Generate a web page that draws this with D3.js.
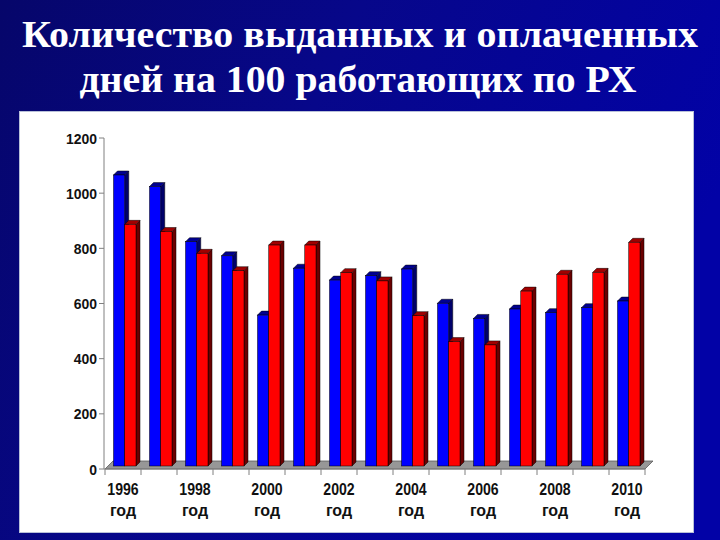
<!DOCTYPE html>
<html><head><meta charset="utf-8">
<script src="https://cdn.jsdelivr.net/npm/d3@7"></script>
<style>html,body{margin:0;padding:0;background:#000070;}svg{display:block;}</style>
</head><body>
<svg id="c" width="720" height="540"></svg>
<script>
const titleLines = ["Количество выданных и оплаченных", "дней на 100 работающих по РХ"];
const years = ["1996","1997","1998","1999","2000","2001","2002","2003","2004","2005","2006","2007","2008","2009","2010"];
const issued = [1055, 1013, 813, 762, 547, 717, 674, 690, 714, 590, 535, 569, 556, 574, 598];
const paid   = [876, 850, 771, 708, 801, 801, 701, 671, 545, 451, 439, 634, 695, 702, 811];
const yTicks = [0, 200, 400, 600, 800, 1000, 1200];
const xLabelYears = ["1996","1998","2000","2002","2004","2006","2008","2010"];
const xLabelSuffix = "год";
const seriesNames = ["issued", "paid"];

const svg = d3.select("#c");
const defs = svg.append("defs");
const g1 = defs.append("linearGradient").attr("id","bg").attr("x1","0").attr("y1","0").attr("x2","1").attr("y2","0.35");
[["0%","#06066a"],["45%","#07078a"],["100%","#0202a6"]].forEach(s=>g1.append("stop").attr("offset",s[0]).attr("stop-color",s[1]));
svg.append("rect").attr("width",720).attr("height",540).attr("fill","url(#bg)");

function squeeze(sel, k){ sel.each(function(){ const L=this.getComputedTextLength(); d3.select(this).attr("textLength",L*k).attr("lengthAdjust","spacingAndGlyphs"); }); }

// title
const title = svg.append("g").attr("fill","#ffffff").attr("font-family","'Liberation Serif','Times New Roman',serif").attr("font-weight","bold").attr("font-size",38).attr("text-anchor","middle");
const tl = [[360,47,676],[358,92,557]];
titleLines.forEach((t,i)=>{
  title.append("text").attr("x",tl[i][0]).attr("y",tl[i][1]).attr("textLength",tl[i][2]).attr("lengthAdjust","spacingAndGlyphs").text(t);
});

// panel
svg.append("rect").attr("x",19.5).attr("y",111.5).attr("width",674).attr("height",421).attr("fill","#ffffff").attr("stroke","#b8c0d8").attr("stroke-width",1);

const y = d3.scaleLinear().domain([0,1200]).range([469,138]);
const x = d3.scaleBand().domain(years).range([105,645]).padding(0);
const xs = d3.scaleBand().domain(seriesNames).range([5.5,28]).padding(0);
const FD = 8;   // floor depth
const d0 = 3;   // bar front offset in depth
const dd = 4;   // bar depth

// floor
const y0 = y(0);
svg.append("polygon").attr("points",[[105,y0],[645,y0],[645+FD,y0-FD],[105+FD,y0-FD]].map(p=>p.join(",")).join(" "))
  .attr("fill","#979797").attr("stroke","#5a5a5a").attr("stroke-width",0.8);

// y axis
const ya = svg.append("g");
ya.append("line").attr("x1",104).attr("x2",104).attr("y1",y(0)).attr("y2",y(1200)).attr("stroke","#808080").attr("stroke-width",1);
ya.selectAll("line.t").data(yTicks).join("line").attr("class","t").attr("x1",99).attr("x2",104).attr("y1",d=>y(d)).attr("y2",d=>y(d)).attr("stroke","#808080");
ya.selectAll("text").data(yTicks).join("text").attr("x",97).attr("y",d=>y(d)).attr("dy","0.36em").attr("text-anchor","end")
  .attr("font-family","'Liberation Sans',Arial,sans-serif").attr("font-weight","bold").attr("font-size",15.5).attr("fill","#111").text(d=>d)
  .call(squeeze, 0.9);

// x axis
const xa = svg.append("g");
xa.append("line").attr("x1",104).attr("x2",645).attr("y1",y0).attr("y2",y0).attr("stroke","#808080");
const bounds = years.map(d=>x(d)).concat([x.range()[1]]);
xa.selectAll("line.t").data(bounds).join("line").attr("class","t").attr("x1",d=>d).attr("x2",d=>d).attr("y1",y0).attr("y2",y0+6).attr("stroke","#808080");
const lab = xa.selectAll("g.l").data(xLabelYears).join("g").attr("class","l")
  .attr("font-family","'Liberation Sans',Arial,sans-serif").attr("font-weight","bold").attr("font-size",16).attr("fill","#111").attr("text-anchor","middle");
lab.append("text").attr("x",d=>x(d)+x.bandwidth()/2).attr("y",495).text(d=>d).call(squeeze, 0.88);
lab.append("text").attr("x",d=>x(d)+x.bandwidth()/2).attr("y",516).text(xLabelSuffix);

// bars
const colors = {issued:{front:"#0000ff",top:"#000090",side:"#00006a"}, paid:{front:"#ff0000",top:"#a00000",side:"#6a0000"}};
const data = [];
years.forEach((yr,i)=>{ data.push({yr, s:"issued", v:issued[i]}); data.push({yr, s:"paid", v:paid[i]}); });
const bars = svg.append("g").selectAll("g").data(data).join("g");
const pts = a=>a.map(p=>p.join(",")).join(" ");
bars.each(function(d){
  const g = d3.select(this);
  const w = xs.bandwidth();
  const xl = x(d.yr) + xs(d.s) + d0;
  const yb = y(0) - d0;
  const yt = y(d.v) - d0;
  const c = colors[d.s];
  g.append("polygon").attr("points",pts([[xl+w,yt],[xl+w+dd,yt-dd],[xl+w+dd,yb-dd],[xl+w,yb]])).attr("fill",c.side).attr("stroke","#000").attr("stroke-width",0.5);
  g.append("polygon").attr("points",pts([[xl,yt],[xl+w,yt],[xl+w+dd,yt-dd],[xl+dd,yt-dd]])).attr("fill",c.top).attr("stroke","#000").attr("stroke-width",0.5);
  g.append("rect").attr("x",xl).attr("y",yt).attr("width",w).attr("height",yb-yt).attr("fill",c.front).attr("stroke","#000").attr("stroke-width",0.5);
});
</script>
</body></html>
